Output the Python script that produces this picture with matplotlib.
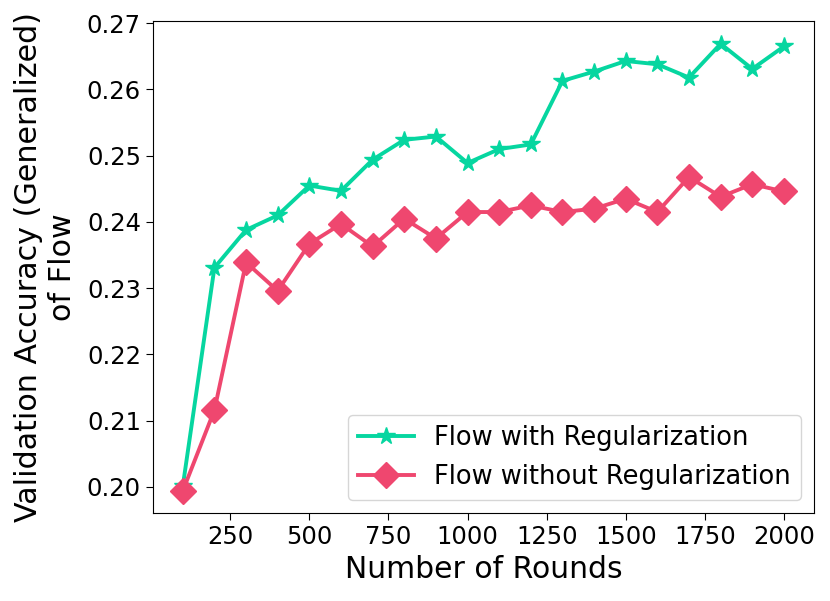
import matplotlib
matplotlib.use("Agg")
import matplotlib.pyplot as plt

rounds = [100, 200, 300, 400, 500, 600, 700, 800, 900, 1000,
          1100, 1200, 1300, 1400, 1500, 1600, 1700, 1800, 1900, 2000]
with_reg = [0.2001, 0.2331, 0.2388, 0.2410, 0.2455, 0.2447, 0.2494, 0.2524, 0.2529, 0.2489,
            0.2510, 0.2517, 0.2613, 0.2627, 0.2643, 0.2638, 0.2618, 0.2669, 0.2631, 0.2665]
without_reg = [0.1994, 0.2116, 0.2339, 0.2296, 0.2367, 0.2397, 0.2363, 0.2405, 0.2375, 0.2415,
               0.2415, 0.2425, 0.2415, 0.2420, 0.2435, 0.2415, 0.2468, 0.2438, 0.2457, 0.2446]

fig = plt.figure(figsize=(8.3, 6.01), dpi=100)
ax = fig.add_axes([0.184, 0.1459, 0.7967, 0.8185])
ax.plot(rounds, with_reg, color="#06D6A0", marker="*", markersize=13, linewidth=2.8,
        label="Flow with Regularization")
ax.plot(rounds, without_reg, color="#EF476F", marker="D", markersize=13.5, linewidth=2.8,
        label="Flow without Regularization")
ax.set_xticks([250, 500, 750, 1000, 1250, 1500, 1750, 2000])
ax.set_yticks([0.20, 0.21, 0.22, 0.23, 0.24, 0.25, 0.26, 0.27])
ax.set_yticklabels(["0.20", "0.21", "0.22", "0.23", "0.24", "0.25", "0.26", "0.27"])
ax.tick_params(labelsize=17.5, length=5)
ax.set_xlabel("Number of Rounds", fontsize=21.5)
ax.set_ylabel("Validation Accuracy (Generalized)\nof Flow", fontsize=21.7, labelpad=7)
ax.legend(loc="lower right", fontsize=18.5, handlelength=2.15)
fig.savefig("out.png", dpi=100)
